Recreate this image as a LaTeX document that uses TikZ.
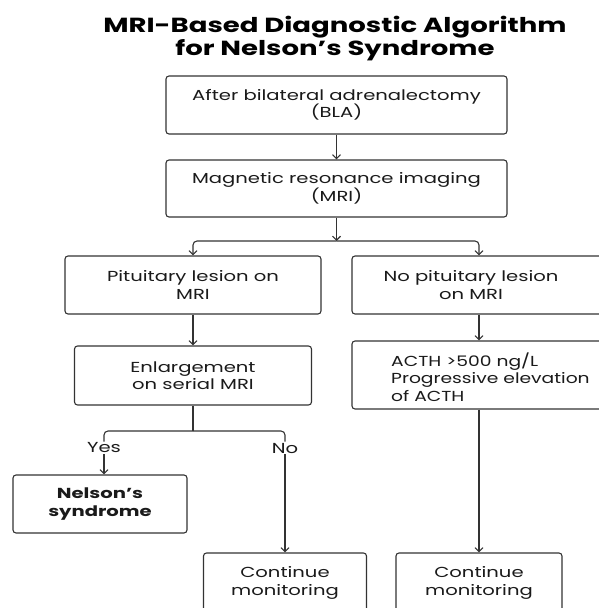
\documentclass[tikz,border=0pt]{standalone}
\usepackage{fontspec}
\setmainfont{Poppins}[FakeStretch=1.35]
\newfontfamily\narrowf{Poppins}[FakeStretch=1.29]
\usetikzlibrary{arrows.meta}
\definecolor{linec}{HTML}{333333}
\definecolor{txt}{HTML}{1A1A1A}
\begin{document}
\begin{tikzpicture}[x=1pt,y=-1pt,
  box/.style={draw=linec, line width=1.1pt, rounded corners=3pt, inner sep=0pt, align=center, text=txt, font=\fontsize{14.5}{17.5}\selectfont},
  lbl/.style={inner sep=1pt, text=txt, font=\fontsize{14.5}{17.5}\selectfont},
  arr/.style={draw=linec, line width=1.1pt, -{Straight Barb[length=4pt,width=8pt]}},
  ln/.style={draw=linec, line width=1.1pt}]
\fill[white] (0,0) rectangle (599,608);
\useasboundingbox (0,0) rectangle (599,608);
\clip (0,0) rectangle (599,608);
\node[font=\bfseries\fontsize{20.4}{23}\selectfont, align=center, text=black] (title) at (335,38.5) {MRI-Based Diagnostic Algorithm\\for Nelson’s Syndrome};
\node[box, minimum width=341pt, minimum height=58pt] (b1) at (336.5,105) {After bilateral adrenalectomy\\(BLA)};
\node[box, minimum width=341pt, minimum height=57pt] (b2) at (336.5,188.5) {Magnetic resonance imaging\\(MRI)};
\node[box, minimum width=256pt, minimum height=58pt] (b3) at (193,285) {Pituitary lesion on\\MRI};
\node[box, minimum width=254pt, minimum height=58pt] (b4) at (479,285) {};
\node[lbl, align=center] (t4) at (471,285) {No pituitary lesion\\on MRI};
\node[box, minimum width=237pt, minimum height=59pt] (b5) at (193,375.5) {Enlargement\\on serial MRI};
\node[box, minimum width=254pt, minimum height=68pt] (b6) at (479,375) {};
\node[lbl, align=left, anchor=west, font=\narrowf\fontsize{14.5}{17.5}\selectfont] (t6) at (390,377) {ACTH >500 ng/L\\Progressive elevation\\of ACTH};
\node[box, font=\bfseries\fontsize{14.5}{17.5}\selectfont, minimum width=174pt, minimum height=58pt] (b7) at (100,504) {Nelson’s\\syndrome};
\node[box, minimum width=163pt, minimum height=60pt] (b8) at (285,583) {Continue\\monitoring};
\node[box, minimum width=166pt, minimum height=60pt] (b9) at (479,583) {Continue\\monitoring};
\coordinate (j1) at (336.5,241);
\coordinate (j2) at (193,431);
\node[lbl] (yes) at (104,448) {Yes};
\node[lbl] (no) at (285,448) {No};
\draw[arr] (b1) -- (b2);
\draw[arr] (b2) -- (j1);
\draw[arr, rounded corners=4pt] (j1) -| (b3);
\draw[arr, rounded corners=4pt] (j1) -| (b4);
\draw[arr] (b3) -- (b5);
\draw[arr] (b4) -- (b6);
\draw[arr] (b6) -- (b9);
\draw[ln] (b5) -- (j2);
\draw[ln, rounded corners=4pt] (j2) -| (yes);
\draw[ln, rounded corners=4pt] (j2) -| (no);
\draw[arr] (yes.south) -- (yes.south |- b7.north);
\draw[arr] (no) -- (b8);
\end{tikzpicture}
\end{document}
